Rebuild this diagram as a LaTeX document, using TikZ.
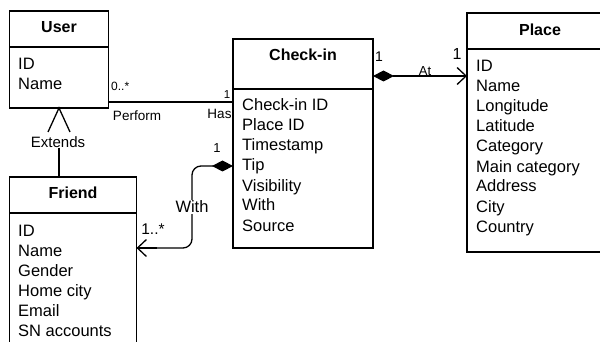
\documentclass[tikz,border=0pt]{standalone}
\usepackage{fontspec}
\setmainfont{Liberation Sans}
\usetikzlibrary{arrows.meta}
\begin{document}
\begin{tikzpicture}[x=1pt,y=-1pt,
  box/.style={draw, line width=1.6pt, rectangle, inner sep=0pt, outer sep=0pt, anchor=north west},
  title/.style={font=\fontsize{16}{18}\selectfont\bfseries, anchor=base, inner sep=0pt},
  attr/.style={font=\fontsize{16.5}{18}\selectfont, anchor=base west, inner sep=0pt},
  lbl/.style={font=\fontsize{13.5}{15}\selectfont, inner sep=0pt},
  conn/.style={line width=1.3pt},
  openarrow/.style={-{Straight Barb[length=9pt, width=17pt, line width=1.3pt]}},
  diam/.style={{Diamond[length=21pt, width=11pt, fill=black]}-}
]
\useasboundingbox (0,0) rectangle (600,342);
% boxes
\node[box, minimum width=99pt, minimum height=97pt] (user) at (9.5,11) {};
\node[box, minimum width=127pt, minimum height=200pt] (friend) at (9.5,177) {};
\node[box, minimum width=140pt, minimum height=209pt] (checkin) at (233,39) {};
\node[box, draw=none, minimum width=133pt, minimum height=239pt] (place) at (467,13) {};
\draw[line width=1.6pt] (place.north east) -- (place.north west) -- (place.south west) -- (place.south east);
% dividers
\draw[line width=1.6pt] (user.west |- 0,47) -- (user.east |- 0,47);
\draw[line width=1.6pt] (friend.west |- 0,213) -- (friend.east |- 0,213);
\draw[line width=1.6pt] (checkin.west |- 0,89) -- (checkin.east |- 0,89);
\draw[line width=1.6pt] (place.west |- 0,49) -- (place.east |- 0,49);
% titles
\node[title] (userT) at (59,33) {User};
\node[title] (friendT) at (73,199) {Friend};
\node[title] (checkinT) at (303,61) {Check-in};
\node[title] (placeT) at (540,36) {Place};
% attributes
\foreach \t [count=\i] in {ID,Name}
  \node[attr] (ua\i) at (18,70+20*\i-20) {\t};
\foreach \t [count=\i] in {ID,Name,Gender,Home city,Email,SN accounts}
  \node[attr] (fa\i) at (18,236+20*\i-20) {\t};
\foreach \t [count=\i] in {Check-in ID,Place ID,Timestamp,Tip,Visibility,With,Source}
  \node[attr] (ca\i) at (242,111+20*\i-20) {\t};
\foreach \t [count=\i] in {ID,Name,Longitude,Latitude,Category,Main category,Address,City,Country}
  \node[attr] (pa\i) at (476,72+20*\i-20) {\t};
% User -- Check-in
\coordinate (ua) at ([yshift=6pt]user.south east);
\draw[conn] (ua) -- (ua -| checkin.west);
\node[lbl, font=\fontsize{12}{14}\selectfont, anchor=west] (l0) at (111,86) {0..*};
\node[lbl] (lperf) at (137,116) {Perform};
\node[lbl, font=\fontsize{11.5}{13}\selectfont] (l1a) at (227,94.5) {1};
\node[lbl] (lhas) at (219.5,114) {Has};
% Check-in -- Place
\coordinate (cp) at (checkin.east |- 0,76);
\draw[conn, diam] (cp) -- (cp -| place.west);
\draw[conn, openarrow] ([xshift=-20pt]cp -| place.west) -- (cp -| place.west);
\node[lbl, font=\fontsize{14}{16}\selectfont] (l1b) at (379,57) {1};
\node[lbl, font=\fontsize{16}{18}\selectfont] (l1c) at (457,54) {1};
\node[lbl, font=\fontsize{13}{15}\selectfont] (lat) at (425,71) {At};
% Check-in -- Friend
\coordinate (cf) at (checkin.west |- 0,166);
\coordinate (cfb) at (192,166);
\coordinate (cfc) at (192,248);
\draw[conn, diam, rounded corners=9pt] (cf) -- (cfb) -- (cfc) -- (cfc -| friend.east);
\draw[conn, openarrow] ([xshift=20pt]cfc -| friend.east) -- (cfc -| friend.east);
\node[lbl, font=\fontsize{16.5}{18}\selectfont, fill=white, inner sep=1pt] (lwith) at (192,207) {With};
\node[lbl, font=\fontsize{13}{15}\selectfont] (l1d) at (217,148.5) {1};
\node[lbl, font=\fontsize{15.5}{17}\selectfont] (l1s) at (153,229) {1..*};
% Extends
\coordinate (ext1) at (48,132);
\coordinate (ext2) at (70,132);
\draw[conn] (ext1) -- (user.south) -- (ext2);
\node[lbl, font=\fontsize{15}{17}\selectfont] (lext) at (58,142) {Extends};
\coordinate (ext3) at (lext.south -| user.south);
\draw[conn] (ext3) -- (ext3 |- friend.north);
\end{tikzpicture}
\end{document}
